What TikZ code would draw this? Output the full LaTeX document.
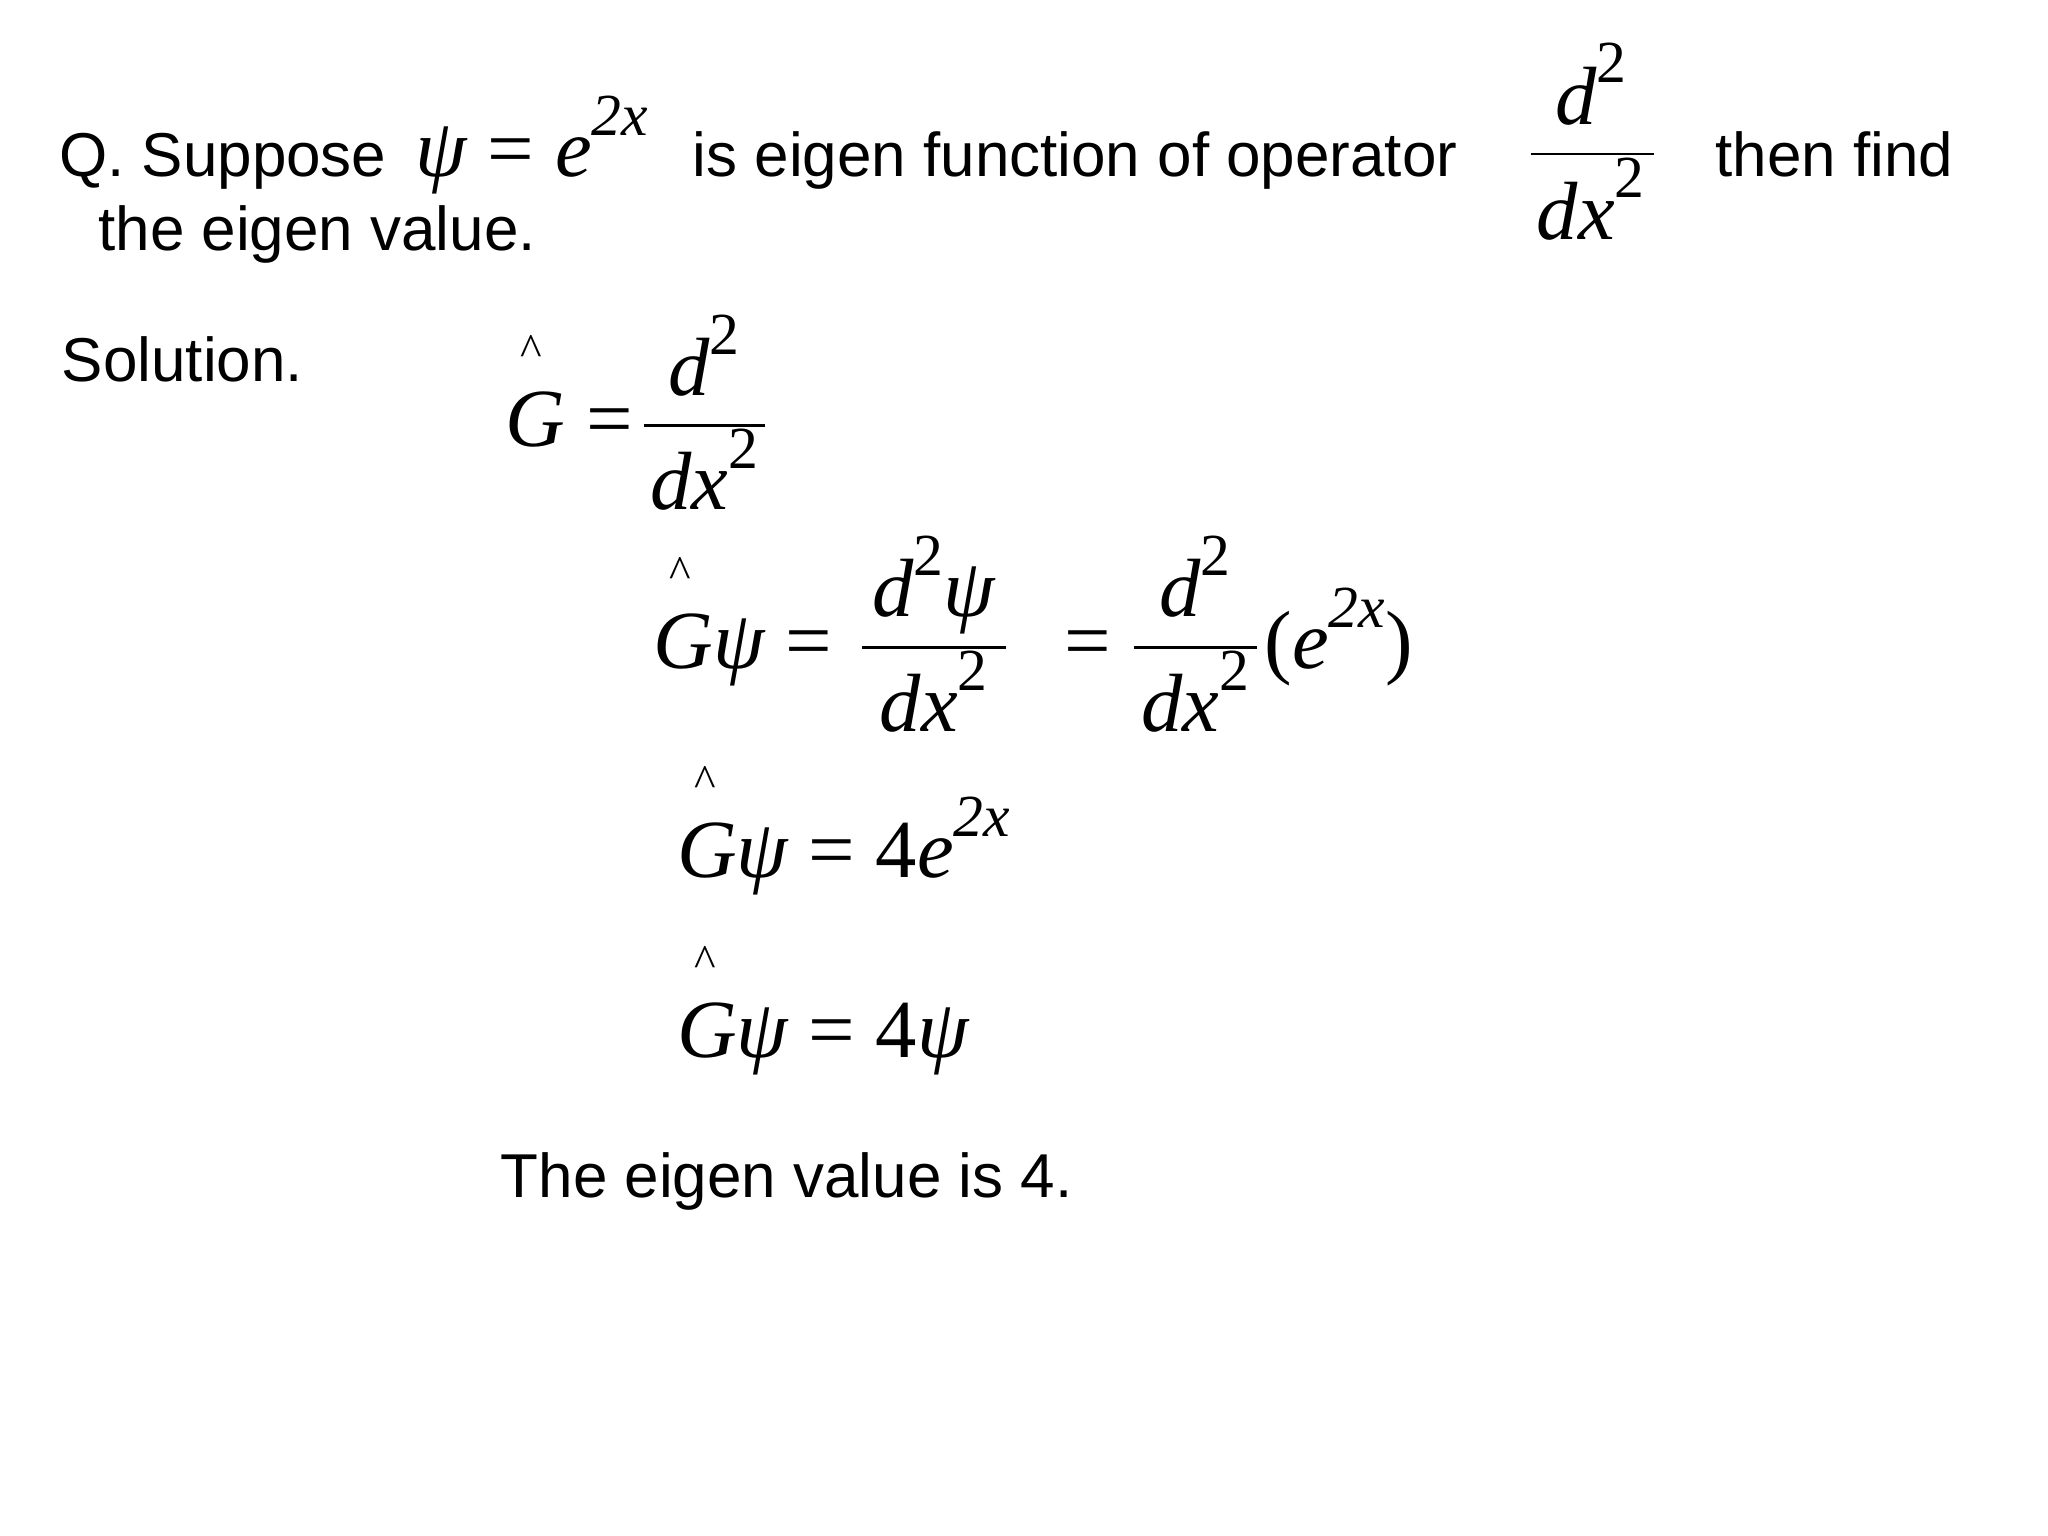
\documentclass[tikz,border=0pt]{standalone}
\usepackage{fontspec}
\setmainfont{Liberation Sans}
\newfontfamily\mf{Liberation Serif}
\begin{document}
\begin{tikzpicture}[x=0.02cm,y=-0.02cm,
  txt/.style={anchor=base west,inner sep=0,font=\fontsize{27}{30}\selectfont},
  mth/.style={anchor=base west,inner sep=0,font=\mf\fontsize{36}{40}\selectfont},
  mthc/.style={anchor=base,inner sep=0,font=\mf\fontsize{36}{40}\selectfont},
  hatm/.style={anchor=base,inner sep=0,font=\mf\fontsize{20}{22}\selectfont},
  bar/.style={line width=1.2pt}]
\useasboundingbox (0,0) rectangle (1568,1176);
\def\sp#1{\raisebox{0.5em}{\fontsize{26}{28}\selectfont #1}}
% question
\node[txt] (q1) at (45,135) {Q. Suppose};
\node[mth] (psi) at (318,135) {\itshape ψ \upshape= \itshape e\sp{2x}};
\node[txt] (q2) at (530,135) {is eigen function of operator};
\node[mthc] (qn) at (1218,95) {\itshape d\sp{\upshape 2}};
\node[mthc] (qd) at (1218,183) {\itshape dx\sp{\upshape 2}};
\draw[bar] (1172,118) coordinate (qa) -- (1266,118) coordinate (qb);
\node[txt] (q3) at (1313,135) {then find};
\node[txt] (q4) at (75,192) {the eigen value.};
\node[txt] (sol) at (47,292) {Solution.};
% line 1
\node[hatm] (h1) at (407,280) {\^{}};
\node[mth] (g1) at (387,342) {\itshape G \upshape=};
\node[mthc] (n1) at (539,303) {\itshape d\sp{\upshape 2}};
\node[mthc] (d1) at (539,390) {\itshape dx\sp{\upshape 2}};
\draw[bar] (493,326) coordinate (a1) -- (586,326) coordinate (b1);
% line 2
\node[hatm] (h2) at (521,450) {\^{}};
\node[mth] (g2) at (500,512) {\itshape Gψ \upshape=};
\node[mthc] (n2) at (715,472) {\itshape d\sp{\upshape 2}ψ};
\node[mthc] (d2) at (715,560) {\itshape dx\sp{\upshape 2}};
\draw[bar] (660,496) coordinate (a2) -- (770,496) coordinate (b2);
\node[mth] (e2) at (815,512) {=};
\node[mthc] (n3) at (915,472) {\itshape d\sp{\upshape 2}};
\node[mthc] (d3) at (915,560) {\itshape dx\sp{\upshape 2}};
\draw[bar] (868,496) coordinate (a3) -- (962,496) coordinate (b3);
\node[mth] (p3) at (968,512) {(\itshape e\sp{2x}\upshape)};
% line 3
\node[hatm] (h3) at (540,610) {\^{}};
\node[mth] (g3) at (518,672) {\itshape Gψ \upshape= 4\itshape e\sp{2x}};
% line 4
\node[hatm] (h4) at (540,748) {\^{}};
\node[mth] (g4) at (518,810) {\itshape Gψ \upshape= 4\itshape ψ};
\node[txt] (ans) at (383,917) {The eigen value is 4.};
\end{tikzpicture}
\end{document}
